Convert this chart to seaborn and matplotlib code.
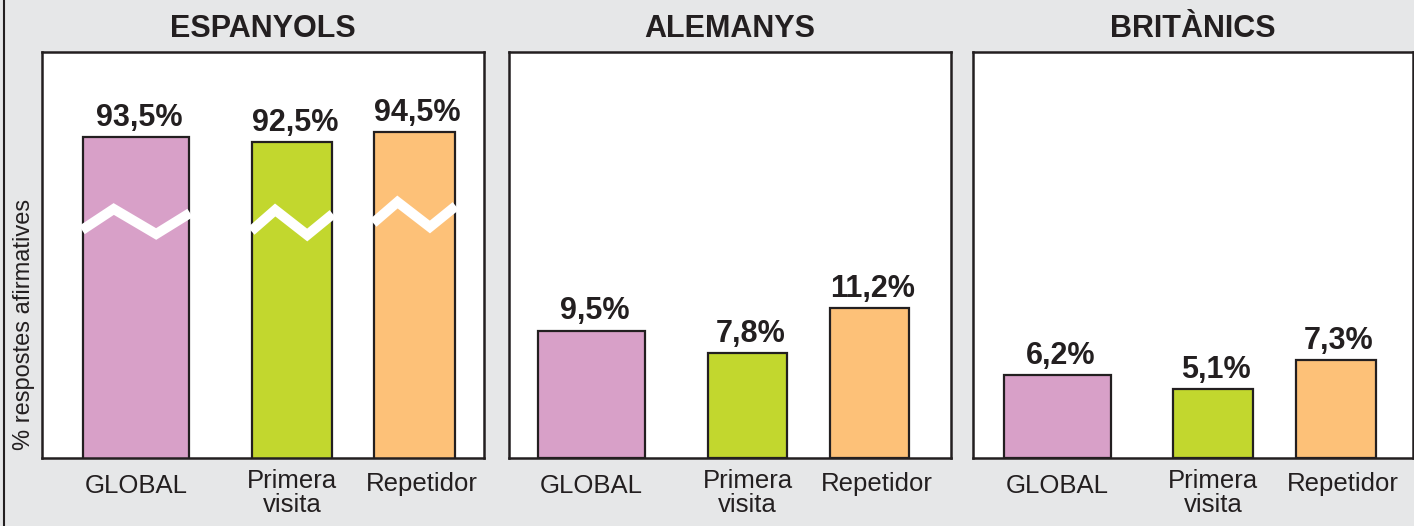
import matplotlib
matplotlib.use("Agg")
import matplotlib.pyplot as plt
import matplotlib.transforms as mtransforms
from matplotlib.lines import Line2D
import seaborn as sns

# ---- data ----
categories = ["GLOBAL", "Primera\nvisita", "Repetidor"]
panels = ["ESPANYOLS", "ALEMANYS", "BRITÀNICS"]
espanyols = [93.5, 92.5, 94.5]
alemanys = [9.5, 7.8, 11.2]
britanics = [6.2, 5.1, 7.3]
value_labels = [["93,5%", "92,5%", "94,5%"],
                ["9,5%", "7,8%", "11,2%"],
                ["6,2%", "5,1%", "7,3%"]]
ylabel = "% respostes afirmatives"

# ---- style ----
colors = ["#d8a0c8", "#c2d72e", "#fdc178"]
bg = "#e6e7e8"
ink = "#231f20"

sns.set_style("white")
plt.rcParams["font.family"] = ["Liberation Sans", "DejaVu Sans"]

W, H = 1414, 526
fig = plt.figure(figsize=(W / 100, H / 100), dpi=100, facecolor=bg)

# layout in pixels: (left, width) of axes, bar centers/widths relative to axes left
axes_px = [(42, 442), (509, 442), (973, 440)]
top_px, bottom_px = 52, 457.5
bar_layout = [
    ([94, 250, 372.5], [106, 80, 81]),
    ([82.5, 238.5, 360.5], [107, 79, 79]),
    ([84.5, 240, 363], [107, 80, 80]),
]
label_shift_px = [0, 0, 7]
label_vshift_px = [-3, 2, -1]
ylims = [(29.5, 110.5), (0, 30.35), (0, 30.35)]
all_values = [espanyols, alemanys, britanics]

for i, (title, vals) in enumerate(zip(panels, all_values)):
    left, width = axes_px[i]
    ax = fig.add_axes([left / W, 1 - bottom_px / H, width / W, (bottom_px - top_px) / H])
    ax.set_facecolor("white")
    sns.barplot(x=categories, y=vals, hue=categories, palette=colors, legend=False,
                saturation=1, edgecolor=ink, linewidth=1.6, ax=ax, order=categories,
                hue_order=categories)
    centers, widths = bar_layout[i]
    for p, c, w in zip(ax.patches, centers, widths):
        p.set_x((c - w / 2) / width)
        p.set_width(w / width)
    ax.set_xlim(0, 1)
    ax.set_ylim(*ylims[i])
    ax.set_yticks([])
    ax.set_xticks([(c + s) / width for c, s in zip(centers, label_shift_px)])
    ax.set_xticklabels(categories, fontsize=18.5, color=ink, linespacing=1.0)
    ax.tick_params(axis="x", length=0, pad=10)
    for lab, dv in zip(ax.get_xticklabels(), label_vshift_px):
        lab.set_transform(lab.get_transform() +
                          mtransforms.ScaledTranslation(0, dv / 100, fig.dpi_scale_trans))
    ax.set_xlabel("")
    ax.set_ylabel("")
    for sp in ax.spines.values():
        sp.set_visible(True)
        sp.set_color(ink)
        sp.set_linewidth(1.8)
    ax.set_title(title, fontsize=22, fontweight="bold", color=ink, pad=11)

    for p, lab in zip(ax.patches, value_labels[i]):
        ax.annotate(lab, (p.get_x() + p.get_width() / 2, p.get_height()),
                    xytext=(2, 8), textcoords="offset points", ha="center",
                    va="baseline", fontsize=22, fontweight="bold", color=ink,
                    annotation_clip=False)

    if i == 0:
        ax.set_ylabel(ylabel, fontsize=17, color=ink)
        ax.yaxis.set_label_coords((24 - left) / width, (bottom_px - 324) / (bottom_px - top_px))
        ax.yaxis.label.set_va("center")
        # axis-break zigzags across the truncated bars
        trans = mtransforms.blended_transform_factory(ax.transData, ax.transAxes)
        zig_fx = [-0.01, 0.29, 0.69, 1.01]
        zig_dy_px = [0, -21, 4, -17]
        base_px = [230, 231, 223]
        hpx = bottom_px - top_px
        for p, b in zip(ax.patches, base_px):
            xs = [p.get_x() + f * p.get_width() for f in zig_fx]
            ys = [(bottom_px - (b + d)) / hpx for d in zig_dy_px]
            ax.add_line(Line2D(xs, ys, transform=trans, color="white", lw=7.2,
                               solid_joinstyle="miter", solid_capstyle="butt",
                               zorder=5))

# left border line of the figure
fig.add_artist(Line2D([4 / W, 4 / W], [0, 1], color=ink, lw=1.5,
                      transform=fig.transFigure))

fig.savefig("out.png", dpi=100, facecolor=bg)
